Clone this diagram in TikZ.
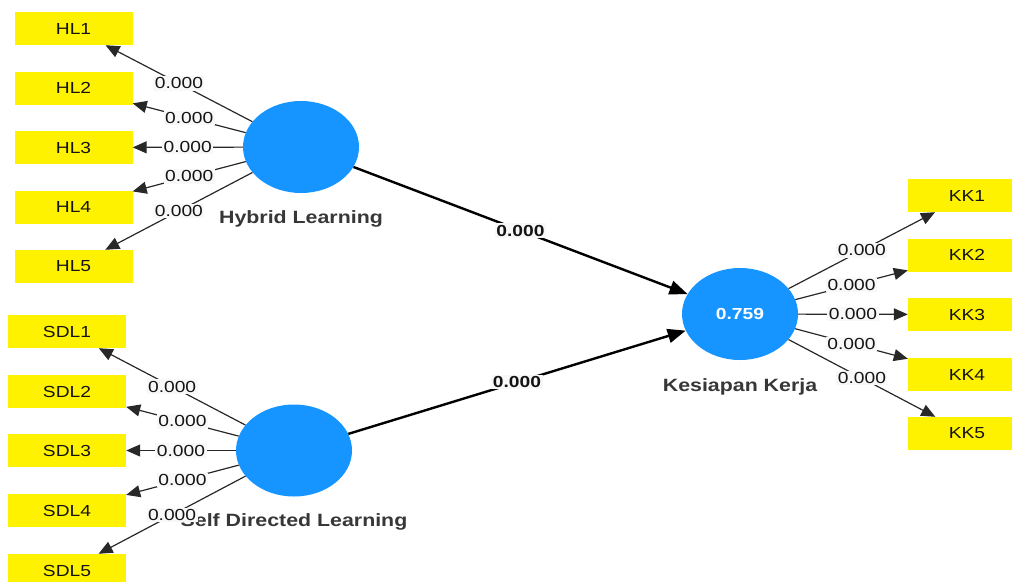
\documentclass[tikz,border=0pt]{standalone}
\usepackage{fontspec}
\setmainfont{Liberation Sans}
\usetikzlibrary{shapes.geometric,arrows.meta}
\definecolor{lvblue}{RGB}{22,148,255}
\definecolor{valbg}{RGB}{248,248,248}
\definecolor{ldgrey}{RGB}{40,40,40}
\definecolor{txtdark}{RGB}{20,20,20}
\newcommand{\wide}[1]{\scalebox{1.2}[1]{#1}}
\tikzset{
	ind/.style={fill=yellow, minimum width=118, minimum height=33, inner sep=0pt,
		text=txtdark, font=\fontsize{16}{16}\selectfont},
	lv/.style={ellipse, fill=lvblue, minimum width=116, minimum height=92, inner sep=0pt},
	lvname/.style={text=txtdark!85!white, font=\fontsize{17.8}{17.8}\selectfont\bfseries},
	ld/.style={draw=ldgrey, line width=1.2pt, -{Triangle[length=14pt,width=12pt]}},
	pth/.style={draw=black, line width=2.4pt, -{Triangle[length=18pt,width=14pt]}},
	val/.style={fill=valbg, inner sep=1.5pt, text=txtdark, font=\fontsize{16}{16}\selectfont},
	pval/.style={val, font=\fontsize{16}{16}\selectfont\bfseries},
}
\begin{document}
\begin{tikzpicture}[x=1pt,y=-1pt]
	\useasboundingbox (0,0) rectangle (1012,581);
	\clip (0,0) rectangle (1012,581);

	% latent variables
	\node[lv] (hl) at (301,147) {};
	\node[lvname] (hlname) at (301,219) {\wide{Hybrid Learning}};
	\node[lv] (sdl) at (294,450.5) {};
	\node[lvname] (sdlname) at (294,522) {\wide{Self Directed Learning}};
	\node[lv] (kk) at (740,314) {\textcolor{white}{\fontsize{16}{16}\selectfont\bfseries\wide{0.759}}};
	\node[lvname] (kkname) at (740,387) {\wide{Kesiapan Kerja}};

	% indicators
	\node[ind] (hl1) at (73.5,28.5) {\wide{HL1}};
	\node[ind] (hl2) at (73.5,88) {\wide{HL2}};
	\node[ind] (hl3) at (73.5,147.5) {\wide{HL3}};
	\node[ind] (hl4) at (73.5,207) {\wide{HL4}};
	\node[ind] (hl5) at (73.5,266.5) {\wide{HL5}};

	\node[ind] (sdl1) at (67,331.5) {\wide{SDL1}};
	\node[ind] (sdl2) at (67,391.5) {\wide{SDL2}};
	\node[ind] (sdl3) at (67,450.5) {\wide{SDL3}};
	\node[ind] (sdl4) at (67,510.5) {\wide{SDL4}};
	\node[ind] (sdl5) at (67,570.5) {\wide{SDL5}};

	\node[ind] (kk1) at (967,195.5) {\wide{KK1}};
	\node[ind] (kk2) at (967,255) {\wide{KK2}};
	\node[ind] (kk3) at (967,314.5) {\wide{KK3}};
	\node[ind] (kk4) at (967,374.5) {\wide{KK4}};
	\node[ind] (kk5) at (967,433.5) {\wide{KK5}};

	% outer loadings
	\draw[ld] (hl) -- node[val]{\wide{0.000}} (hl1);
	\draw[ld] (hl) -- node[val]{\wide{0.000}} (hl2);
	\draw[ld] (hl) -- node[val]{\wide{0.000}} (hl3);
	\draw[ld] (hl) -- node[val]{\wide{0.000}} (hl4);
	\draw[ld] (hl) -- node[val]{\wide{0.000}} (hl5);

	\draw[ld] (sdl) -- node[val]{\wide{0.000}} (sdl1);
	\draw[ld] (sdl) -- node[val]{\wide{0.000}} (sdl2);
	\draw[ld] (sdl) -- node[val]{\wide{0.000}} (sdl3);
	\draw[ld] (sdl) -- node[val]{\wide{0.000}} (sdl4);
	\draw[ld] (sdl) -- node[val]{\wide{0.000}} (sdl5);

	\draw[ld] (kk) -- node[val]{\wide{0.000}} (kk1);
	\draw[ld] (kk) -- node[val]{\wide{0.000}} (kk2);
	\draw[ld] (kk) -- node[val]{\wide{0.000}} (kk3);
	\draw[ld] (kk) -- node[val]{\wide{0.000}} (kk4);
	\draw[ld] (kk) -- node[val]{\wide{0.000}} (kk5);

	% inner model
	\draw[pth] (hl) -- node[pval]{\wide{0.000}} (kk);
	\draw[pth] (sdl) -- node[pval]{\wide{0.000}} (kk);
\end{tikzpicture}
\end{document}
